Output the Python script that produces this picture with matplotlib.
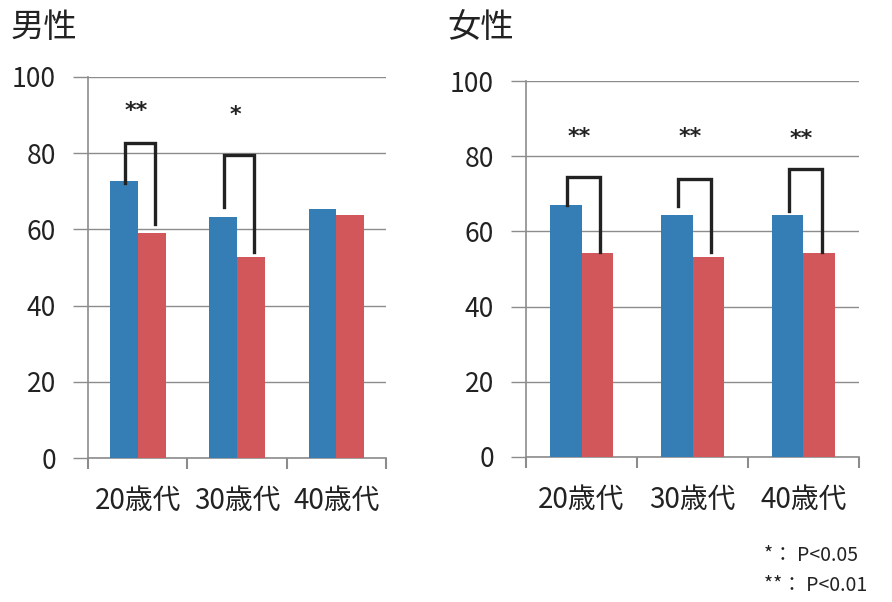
import matplotlib.pyplot as plt
import numpy as np

plt.rcParams['font.family'] = ['Noto Sans CJK JP', 'DejaVu Sans']

ages = ['20歳代', '30歳代', '40歳代']
male_blue = [72.7, 63.3, 65.4]
male_red = [59.0, 52.8, 63.8]
female_blue = [67.0, 64.3, 64.3]
female_red = [54.2, 53.1, 54.2]

# brackets: (group, left bottom, top, right bottom), stars
male_brackets = [(0, 72.2, 82.7, 61.4, '**', 91.0), (1, 65.9, 79.5, 54.1, '*', 90.0)]
female_brackets = [(0, 67.0, 74.4, 54.4, '**', 85.0), (1, 66.7, 73.9, 54.4, '**', 85.0),
                   (2, 65.3, 76.5, 54.4, '**', 84.5)]

blue = '#357eb5'
red = '#d1575a'
grid_c = '#8c8c8c'

fig = plt.figure(figsize=(8.92, 6.02), dpi=100)
ax1 = fig.add_axes([0.0987, 0.2392, 0.334, 0.633])
ax2 = fig.add_axes([0.5897, 0.2409, 0.3733, 0.6245])


def draw(ax, b, r, brackets, title, tx):
    x = np.arange(len(ages))
    w = 0.28
    ax.bar(x - w / 2, b, w, color=blue, zorder=3)
    ax.bar(x + w / 2, r, w, color=red, zorder=3)
    ax.set_xlim(-0.5, 2.5)
    ax.set_ylim(0, 100)
    ax.set_yticks(np.arange(0, 101, 20))
    ax.grid(axis='y', color=grid_c, lw=1, zorder=0)
    ax.set_xticks(x)
    ax.set_xticklabels(ages, fontsize=20, color='#222222')
    ax.set_xticks([-0.5, 0.5, 1.5, 2.5], minor=True)
    ax.tick_params(axis='x', which='major', length=0, pad=20)
    ax.tick_params(axis='x', which='minor', length=8, color=grid_c, width=1.5)
    ax.tick_params(axis='y', length=11, color=grid_c, width=1, labelsize=19,
                   labelcolor='#222222', pad=12)
    for s in ['top', 'right']:
        ax.spines[s].set_visible(False)
    for s in ['left', 'bottom']:
        ax.spines[s].set_color(grid_c)
        ax.spines[s].set_linewidth(1.2)
    for g, lb, top, rb, star, sy in brackets:
        xl = g - w / 2 + 0.01
        xr = g + w / 2 + 0.03
        ax.plot([xl, xl, xr, xr], [lb, top, top, rb], color='#222222', lw=2.4,
                solid_joinstyle='miter', zorder=4)
        ax.text(g - 0.02, sy, star, ha='center', va='center', fontsize=16,
                fontweight='bold', family='DejaVu Sans', color='#222222')
    fig.text(tx, 0.955, title, fontsize=24, ha='left', va='center', color='#222222')


draw(ax1, male_blue, male_red, male_brackets, '男性', 0.012)
draw(ax2, female_blue, female_red, female_brackets, '女性', 0.502)

fig.text(0.857, 0.077, '*： P<0.05', fontsize=14, ha='left', va='center', color='#222222')
fig.text(0.857, 0.027, '**： P<0.01', fontsize=14, ha='left', va='center', color='#222222')

plt.savefig('out.png')
